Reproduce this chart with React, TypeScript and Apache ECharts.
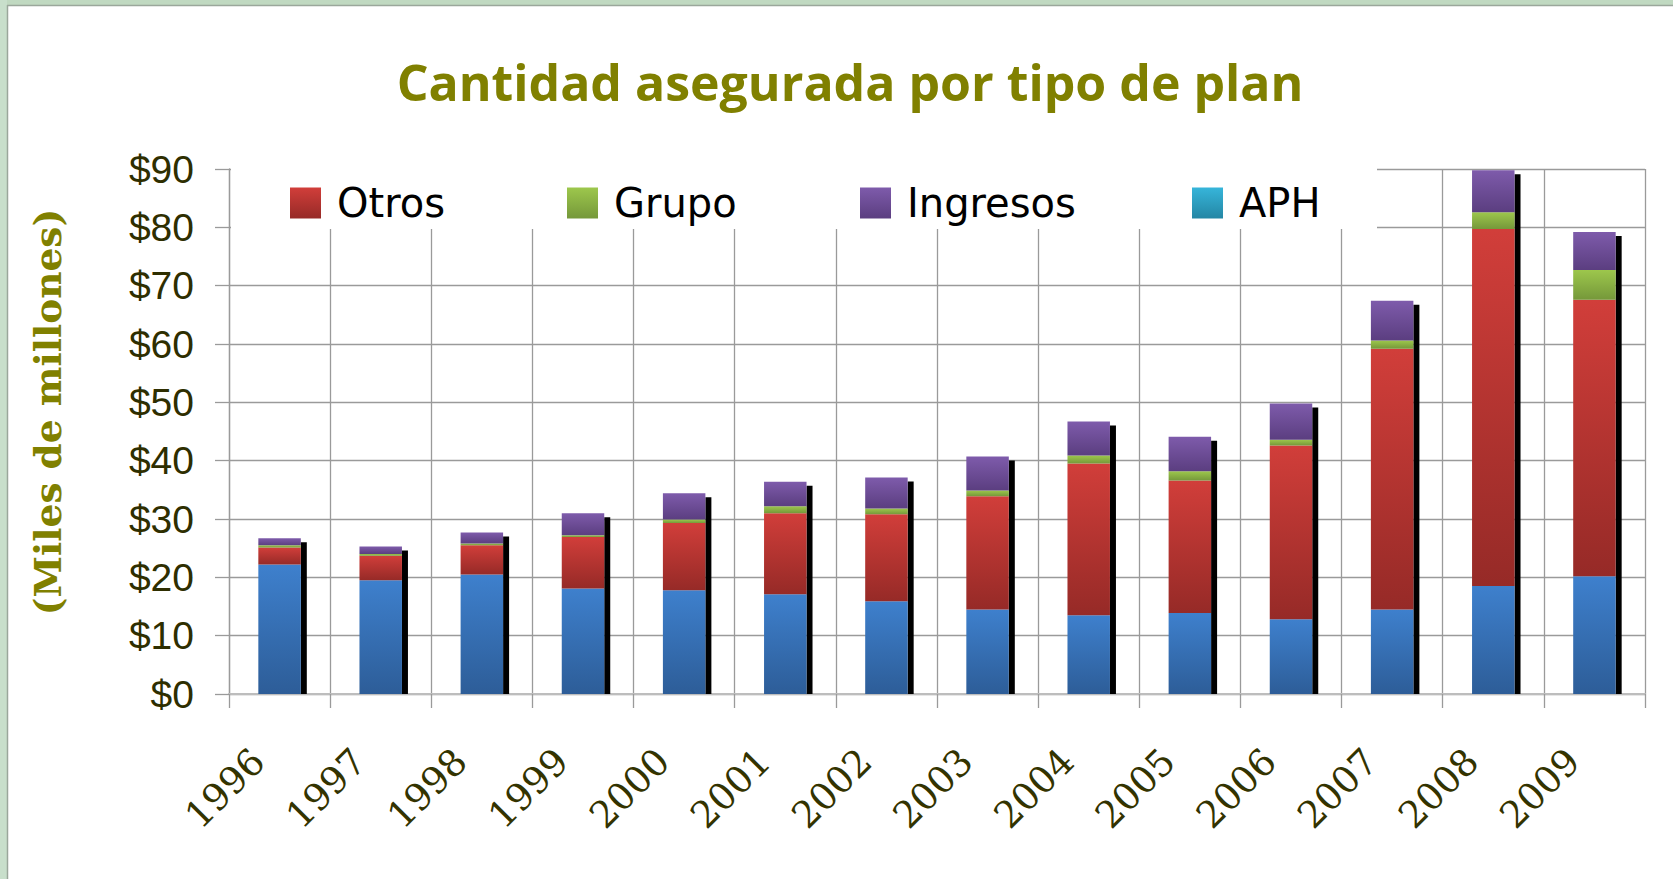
import React, { useEffect, useRef } from "react";
import * as echarts from "echarts";

const years = ["1996", "1997", "1998", "1999", "2000", "2001", "2002", "2003", "2004", "2005", "2006", "2007", "2008", "2009"];
const aph = [22.2, 19.5, 20.5, 18.1, 17.8, 17.1, 15.9, 14.5, 13.5, 13.9, 12.8, 14.5, 18.5, 20.2];
const otros = [2.9, 4.2, 5.0, 8.8, 11.5, 13.9, 14.9, 19.4, 26.0, 22.7, 29.8, 44.7, 61.2, 47.4];
const grupo = [0.4, 0.3, 0.3, 0.3, 0.6, 1.2, 1.0, 1.0, 1.4, 1.6, 1.0, 1.4, 2.9, 5.1];
const ingresos = [1.2, 1.3, 1.9, 3.8, 4.5, 4.2, 5.3, 5.8, 5.8, 5.9, 6.2, 6.8, 7.2, 6.5];
const yMin = 0;
const yMax = 90;
const yStep = 10;
const titleText = "Cantidad asegurada por tipo de plan";
const yName = "(Miles de millones)";

const grad = (top: string, bottom: string) =>
  new echarts.graphic.LinearGradient(0, 0, 0, 1, [
    { offset: 0, color: top },
    { offset: 1, color: bottom },
  ]);

export default function App() {
  const ref = useRef<HTMLDivElement>(null);
  useEffect(() => {
    if (!ref.current) return;
    const chart = echarts.init(ref.current, null, { renderer: "svg" });
    const totals = years.map((_, i) => aph[i] + otros[i] + grupo[i] + ingresos[i]);
    const blue = grad("#3e80cd", "#2d5d98");
    const red = grad("#d13e3a", "#962a27");
    const green = grad("#9dc74c", "#75983a");
    const purple = grad("#7e5bab", "#5b3e80");
    const cyan = grad("#36b5da", "#2486a4");
    const legendFont = { fontFamily: "DejaVu Sans", fontSize: 40, color: "#000", padding: [0, 0, 0, 11] };
    const mkLegend = (name: string, color: any, left: number) => ({
      show: true,
      left,
      top: 183,
      padding: 0,
      itemWidth: 31,
      itemHeight: 31,
      icon: "rect",
      z: 10,
      selectedMode: false,
      textStyle: legendFont,
      data: [{ name, itemStyle: { color } }],
    });
    const barBase = {
      type: "bar",
      stack: "total",
      barWidth: "42%",
      z: 3,
    };
    chart.setOption({
      animation: false,
      backgroundColor: "#ffffff",
      title: {
        text: titleText,
        left: 845,
        textAlign: "center",
        top: 52,
        textStyle: { fontFamily: "Open Sans", fontWeight: "bold", fontSize: 50, color: "#808000" },
      },
      legend: [
        mkLegend("Otros", red, 290),
        mkLegend("Grupo", green, 567),
        mkLegend("Ingresos", purple, 860),
        mkLegend("APH", cyan, 1192),
      ],
      grid: { left: 229, right: 28, top: 169, bottom: 185, containLabel: false },
      xAxis: {
        type: "category",
        data: years,
        boundaryGap: true,
        axisLine: { show: true, lineStyle: { color: "#bdbdbd", width: 2 } },
        axisTick: { show: true, length: 14, lineStyle: { color: "#9a9a9a", width: 1.3 } },
        splitLine: { show: true, lineStyle: { color: "#9a9a9a", width: 1.3 } },
        axisLabel: {
          rotate: 45,
          interval: 0,
          margin: 40,
          padding: [0, 30, 0, 0],
          fontFamily: "DejaVu Serif",
          fontSize: 37,
          color: "#333300",
        },
      },
      yAxis: {
        type: "value",
        min: yMin,
        max: yMax,
        interval: yStep,
        axisLine: { show: true, lineStyle: { color: "#9a9a9a", width: 1.3 } },
        axisTick: { show: true, length: 14, lineStyle: { color: "#9a9a9a", width: 1.3 } },
        splitLine: { show: true, lineStyle: { color: "#9a9a9a", width: 1.3 } },
        axisLabel: {
          formatter: "${value}",
          margin: 35,
          fontFamily: "Liberation Sans",
          fontSize: 39,
          color: "#2e2e00",
        },
      },
      graphic: [
        { type: "rect", z: 100, shape: { x: 0, y: 0, width: 1673, height: 5 }, style: { fill: "#c0d9c1" } },
        { type: "rect", z: 100, shape: { x: 0, y: 0, width: 7, height: 879 }, style: { fill: "#c8dfcb" } },
        { type: "line", z: 100, shape: { x1: 7, y1: 5.5, x2: 1673, y2: 5.5 }, style: { stroke: "#9aa79b", lineWidth: 1.5 } },
        { type: "line", z: 100, shape: { x1: 7.5, y1: 5, x2: 7.5, y2: 879 }, style: { stroke: "#9aa79b", lineWidth: 1.5 } },
        { type: "rect", z: 1, shape: { x: 231, y: 158, width: 1146, height: 71 }, style: { fill: "#ffffff" } },
        {
          type: "text",
          z: 5,
          x: 48,
          y: 412,
          rotation: Math.PI / 2,
          style: {
            text: yName,
            fontFamily: "DejaVu Serif",
            fontWeight: "bold",
            fontSize: 37.5,
            fill: "#808000",
            align: "center",
            verticalAlign: "middle",
          },
        },
      ],
      series: [
        {
          type: "custom",
          name: "shadow",
          z: 2,
          silent: true,
          data: totals.map((t, i) => [i, t]),
          renderItem: (params: any, api: any) => {
            const idx = api.value(0);
            const total = api.value(1);
            const top = api.coord([idx, total]);
            const base = api.coord([idx, 0]);
            const band = api.size([1, 0])[0];
            const bw = band * 0.42;
            return {
              type: "rect",
              shape: { x: top[0] + bw / 2, y: top[1] + 4, width: 6, height: base[1] - top[1] - 4 },
              style: { fill: "#000000" },
            };
          },
        },
        { ...barBase, name: "APH", data: aph, itemStyle: { color: blue } },
        { ...barBase, name: "Otros", data: otros, itemStyle: { color: red } },
        { ...barBase, name: "Grupo", data: grupo, itemStyle: { color: green } },
        { ...barBase, name: "Ingresos", data: ingresos, itemStyle: { color: purple } },
      ],
    });
    return () => chart.dispose();
  }, []);
  return <div ref={ref} style={{ position: "absolute", left: 0, top: 0, width: 1673, height: 879 }} />;
}
